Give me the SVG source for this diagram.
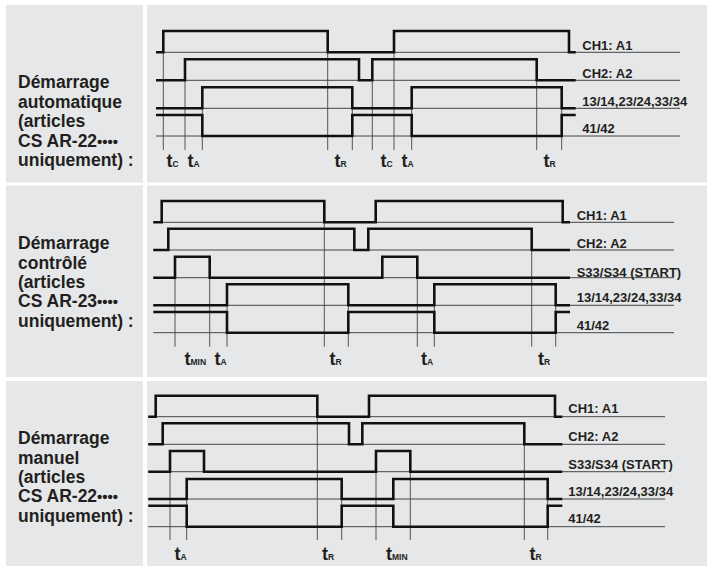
<svg xmlns="http://www.w3.org/2000/svg" width="711" height="568" viewBox="0 0 711 568">
<style>
.cell{fill:#e6e7e8}
.sig{fill:none;stroke:#111;stroke-width:2.6;stroke-linejoin:miter;stroke-linecap:butt}
.base{stroke:#333;stroke-width:0.9}
.tick{stroke:#444;stroke-width:0.9}
.lbl{font-family:"Liberation Sans",Arial,sans-serif;font-weight:bold;font-size:17.5px;fill:#231f20}
.sl{font-family:"Liberation Sans",Arial,sans-serif;font-weight:bold;font-size:13px;fill:#231f20}
.t{font-family:"Liberation Sans",Arial,sans-serif;font-weight:bold;font-size:18px;fill:#231f20}
.sub{font-size:8.5px}
.dots{font-size:15px}
</style>
<rect width="711" height="568" fill="#fff"/>
<!-- Panel 1 -->
<g id="panel1">
<rect class="cell" x="6" y="5" width="137" height="177.5"/>
<rect class="cell" x="147" y="5" width="560" height="177.5"/>
<text class="lbl"><tspan x="18" y="88">Démarrage</tspan><tspan x="18" y="107.5">automatique</tspan><tspan x="18" y="127">(articles</tspan><tspan x="18" y="146.5">CS AR-22<tspan class="dots">••••</tspan></tspan><tspan x="18" y="166">uniquement) :</tspan></text>
<g id="p1-baselines">
<line class="base" x1="156" y1="52.3" x2="680" y2="52.3"/>
<line class="base" x1="156" y1="80.3" x2="680" y2="80.3"/>
<line class="base" x1="156" y1="108.3" x2="680" y2="108.3"/>
<line class="base" x1="156" y1="136" x2="680" y2="136"/>
</g>
<g id="p1-ticks">
<line class="tick" x1="163.3" y1="31" x2="163.3" y2="150"/>
<line class="tick" x1="185" y1="59.3" x2="185" y2="150"/>
<line class="tick" x1="202.3" y1="87.3" x2="202.3" y2="150"/>
<line class="tick" x1="327.7" y1="31" x2="327.7" y2="150"/>
<line class="tick" x1="352.3" y1="87.3" x2="352.3" y2="150"/>
<line class="tick" x1="372.3" y1="59.3" x2="372.3" y2="150"/>
<line class="tick" x1="394" y1="31" x2="394" y2="150"/>
<line class="tick" x1="411.7" y1="87.3" x2="411.7" y2="150"/>
<line class="tick" x1="536.7" y1="59.3" x2="536.7" y2="150"/>
<line class="tick" x1="561.7" y1="87.3" x2="561.7" y2="150"/>
</g>
<g id="p1-signals">
<polyline id="p1-ch1" class="sig" points="156,52.3 163.3,52.3 163.3,31 327.7,31 327.7,52.3 394,52.3 394,31 569,31 569,52.3 575.7,52.3"/>
<polyline id="p1-ch2" class="sig" points="156,80.3 185,80.3 185,59.3 359,59.3 359,80.3 372.3,80.3 372.3,59.3 536.7,59.3 536.7,80.3 575.7,80.3"/>
<polyline id="p1-no" class="sig" points="156,108.3 202.3,108.3 202.3,87.3 352.3,87.3 352.3,108.3 411.7,108.3 411.7,87.3 561.7,87.3 561.7,108.3 575.7,108.3"/>
<polyline id="p1-nc" class="sig" points="156,115 202.3,115 202.3,136 352.3,136 352.3,115 411.7,115 411.7,136 561.7,136 561.7,115 575.7,115"/>
</g>
<g id="p1-labels">
<text class="sl" x="582.3" y="50">CH1: A1</text>
<text class="sl" x="582.3" y="78">CH2: A2</text>
<text class="sl" x="582.3" y="106">13/14,23/24,33/34</text>
<text class="sl" x="582.3" y="133.3">41/42</text>
<text class="t" x="166.5" y="166.5">t<tspan class="sub">C</tspan></text>
<text class="t" x="187.5" y="166.5">t<tspan class="sub">A</tspan></text>
<text class="t" x="334.5" y="166.5">t<tspan class="sub">R</tspan></text>
<text class="t" x="380.5" y="166.5">t<tspan class="sub">C</tspan></text>
<text class="t" x="401.5" y="166.5">t<tspan class="sub">A</tspan></text>
<text class="t" x="543.5" y="166.5">t<tspan class="sub">R</tspan></text>
</g>
</g>
<!-- Panel 2 -->
<g id="panel2">
<rect class="cell" x="6" y="185.5" width="137" height="191.5"/>
<rect class="cell" x="147" y="185.5" width="560" height="191.5"/>
<text class="lbl"><tspan x="18" y="249">Démarrage</tspan><tspan x="18" y="268.5">contrôlé</tspan><tspan x="18" y="288">(articles</tspan><tspan x="18" y="307">CS AR-23<tspan class="dots">••••</tspan></tspan><tspan x="18" y="326.5">uniquement) :</tspan></text>
<g id="p2-baselines">
<line class="base" x1="153.3" y1="222.3" x2="674" y2="222.3"/>
<line class="base" x1="153.3" y1="250" x2="674" y2="250"/>
<line class="base" x1="153.3" y1="277.7" x2="674" y2="277.7"/>
<line class="base" x1="153.3" y1="305.3" x2="674" y2="305.3"/>
<line class="base" x1="153.3" y1="332.7" x2="674" y2="332.7"/>
</g>
<g id="p2-ticks">
<line class="tick" x1="175" y1="256.7" x2="175" y2="346.7"/>
<line class="tick" x1="209.7" y1="256.7" x2="209.7" y2="346.7"/>
<line class="tick" x1="227" y1="284.3" x2="227" y2="346.7"/>
<line class="tick" x1="324.3" y1="201" x2="324.3" y2="346.7"/>
<line class="tick" x1="348.3" y1="284.3" x2="348.3" y2="346.7"/>
<line class="tick" x1="417.3" y1="256.7" x2="417.3" y2="346.7"/>
<line class="tick" x1="434.3" y1="284.3" x2="434.3" y2="346.7"/>
<line class="tick" x1="531.7" y1="228.7" x2="531.7" y2="346.7"/>
<line class="tick" x1="555.7" y1="284.3" x2="555.7" y2="346.7"/>
</g>
<g id="p2-signals">
<polyline id="p2-ch1" class="sig" points="153.3,222.3 161.7,222.3 161.7,201 324.3,201 324.3,222.3 375.7,222.3 375.7,201 562.7,201 562.7,222.3 570,222.3"/>
<polyline id="p2-ch2" class="sig" points="153.3,250 168.3,250 168.3,228.7 354.3,228.7 354.3,250 368.3,250 368.3,228.7 531.7,228.7 531.7,250 570,250"/>
<polyline id="p2-start" class="sig" points="153.3,277.7 175,277.7 175,256.7 209.7,256.7 209.7,277.7 382.3,277.7 382.3,256.7 417.3,256.7 417.3,277.7 570,277.7"/>
<polyline id="p2-no" class="sig" points="153.3,305.3 227,305.3 227,284.3 348.3,284.3 348.3,305.3 434.3,305.3 434.3,284.3 555.7,284.3 555.7,305.3 570,305.3"/>
<polyline id="p2-nc" class="sig" points="153.3,312 227,312 227,332.7 348.3,332.7 348.3,312 434.3,312 434.3,332.7 555.7,332.7 555.7,312 570,312"/>
</g>
<g id="p2-labels">
<text class="sl" x="576.7" y="220">CH1: A1</text>
<text class="sl" x="576.7" y="247.7">CH2: A2</text>
<text class="sl" x="576.7" y="276.7">S33/S34 (START)</text>
<text class="sl" x="576.7" y="302.3">13/14,23/24,33/34</text>
<text class="sl" x="576.7" y="330">41/42</text>
<text class="t" x="184.5" y="365">t<tspan class="sub">MIN</tspan></text>
<text class="t" x="214.5" y="365">t<tspan class="sub">A</tspan></text>
<text class="t" x="329.5" y="365">t<tspan class="sub">R</tspan></text>
<text class="t" x="421" y="365">t<tspan class="sub">A</tspan></text>
<text class="t" x="538" y="365">t<tspan class="sub">R</tspan></text>
</g>
</g>
<!-- Panel 3 -->
<g id="panel3">
<rect class="cell" x="6" y="381" width="137" height="185"/>
<rect class="cell" x="147" y="381" width="560" height="185"/>
<text class="lbl"><tspan x="18" y="444">Démarrage</tspan><tspan x="18" y="463.5">manuel</tspan><tspan x="18" y="483">(articles</tspan><tspan x="18" y="502">CS AR-22<tspan class="dots">••••</tspan></tspan><tspan x="18" y="521.5">uniquement) :</tspan></text>
<g id="p3-baselines">
<line class="base" x1="148.3" y1="416.7" x2="665" y2="416.7"/>
<line class="base" x1="148.3" y1="444.3" x2="665" y2="444.3"/>
<line class="base" x1="148.3" y1="471.7" x2="665" y2="471.7"/>
<line class="base" x1="148.3" y1="499" x2="665" y2="499"/>
<line class="base" x1="148.3" y1="526.7" x2="665" y2="526.7"/>
</g>
<g id="p3-ticks">
<line class="tick" x1="170" y1="451" x2="170" y2="540"/>
<line class="tick" x1="186.7" y1="479" x2="186.7" y2="540"/>
<line class="tick" x1="317.3" y1="395.7" x2="317.3" y2="540"/>
<line class="tick" x1="341.7" y1="479" x2="341.7" y2="540"/>
<line class="tick" x1="376" y1="451" x2="376" y2="540"/>
<line class="tick" x1="410.3" y1="451" x2="410.3" y2="540"/>
<line class="tick" x1="524.3" y1="423.3" x2="524.3" y2="540"/>
<line class="tick" x1="547.7" y1="479" x2="547.7" y2="540"/>
</g>
<g id="p3-signals">
<polyline id="p3-ch1" class="sig" points="148.3,416.7 155.7,416.7 155.7,395.7 317.3,395.7 317.3,416.7 369,416.7 369,395.7 555,395.7 555,416.7 562.3,416.7"/>
<polyline id="p3-ch2" class="sig" points="148.3,444.3 162.7,444.3 162.7,423.3 349,423.3 349,444.3 362.3,444.3 362.3,423.3 524.3,423.3 524.3,444.3 562.3,444.3"/>
<polyline id="p3-start" class="sig" points="148.3,471.7 170,471.7 170,451 204,451 204,471.7 376,471.7 376,451 410.3,451 410.3,471.7 562.3,471.7"/>
<polyline id="p3-no" class="sig" points="148.3,499 186.7,499 186.7,479 341.7,479 341.7,499 393.3,499 393.3,479 547.7,479 547.7,499 562.3,499"/>
<polyline id="p3-nc" class="sig" points="148.3,505.7 186.7,505.7 186.7,526.7 341.7,526.7 341.7,505.7 393.3,505.7 393.3,526.7 547.7,526.7 547.7,505.7 562.3,505.7"/>
</g>
<g id="p3-labels">
<text class="sl" x="568.3" y="413.3">CH1: A1</text>
<text class="sl" x="568.3" y="441">CH2: A2</text>
<text class="sl" x="568.3" y="469">S33/S34 (START)</text>
<text class="sl" x="568.3" y="495.7">13/14,23/24,33/34</text>
<text class="sl" x="568.3" y="523.3">41/42</text>
<text class="t" x="174.5" y="560">t<tspan class="sub">A</tspan></text>
<text class="t" x="322" y="560">t<tspan class="sub">R</tspan></text>
<text class="t" x="386" y="560">t<tspan class="sub">MIN</tspan></text>
<text class="t" x="529.5" y="560">t<tspan class="sub">R</tspan></text>
</g>
</g>
</svg>
